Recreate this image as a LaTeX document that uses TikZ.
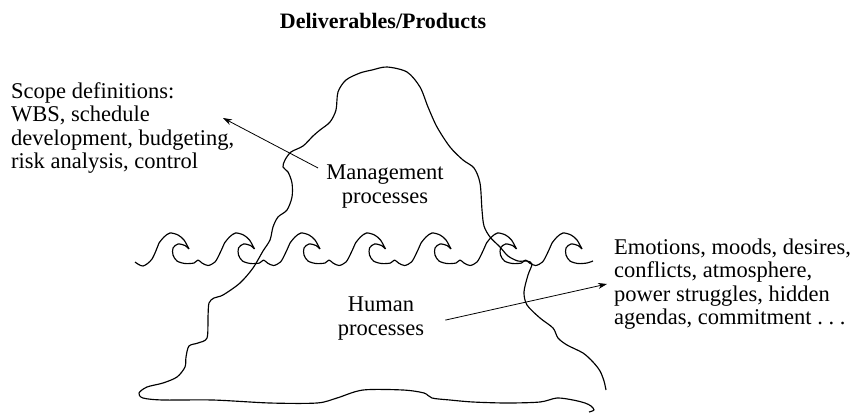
\documentclass[tikz,border=0pt]{standalone}
\usepackage{fontspec}
\setmainfont{Liberation Serif}
\usepackage{tikz}
\usetikzlibrary{arrows.meta}
\tikzset{
   outline/.style={draw=black, line width=1.15pt, line join=round},
   sea/.style={draw=black, line width=1.15pt, line join=round},
   pointer/.style={draw=black, line width=0.8pt,
      -{Stealth[length=9pt, width=6pt]}},
   txt/.style={inner sep=0pt, font=\fontsize{22.5}{23.3}\selectfont},
   }

\begin{document}
\begin{tikzpicture}[x=1pt, y=1pt]
            \useasboundingbox (0,0) rectangle (856,-413);

            % the iceberg
            \draw[outline] plot[smooth] coordinates {
              (589,-412) (594,-410) (591,-406) (585,-403) (573,-400) (557,-398)
              (540,-402) (507,-403) (473,-402) (450,-400) (432,-398) (424,-393)
              (403,-390) (363,-390) (337,-398) (317,-403) (270,-403) (213,-400)
              (163,-400) (143,-398) (139,-393) (147,-387) (163,-383) (177,-377)
              (185,-367) (186,-357) (189,-346) (198,-343) (207,-338) (208,-317)
              (209,-303) (214,-298) (223,-295) (240,-283) (253,-268) (263,-251)
              (270,-240) (273,-227) (278,-217) (287,-210) (292,-197) (292,-183)
              (288,-172) (283,-167) (285,-160) (291,-152) (303,-146) (313,-136)
              (320,-130) (330,-122) (336,-110) (338,-92) (346,-80) (360,-73)
              (372,-70) (387,-67) (407,-72) (420,-87) (428,-107) (437,-127)
              (450,-147) (463,-160) (474,-168) (480,-183) (482,-210) (484,-226)
              (490,-237) (500,-247) (508,-256) (518,-261) (527,-261) (532,-264)
              (528,-275) (524,-292) (527,-305) (540,-318) (553,-328) (558,-338)
              (567,-345) (583,-353) (593,-362) (600,-371) (604,-381) (606,-390)};

            % water line, one breaking wave per step
            \draw[sea, shift={(170,-233)}] plot[smooth] coordinates {
              (-35,-29) (-27,-33) (-18,-26) (-11,-10)};
            \foreach \k in {0,...,5}{
              \draw[sea, shift={(170+65.5*\k,-233)}]
                plot[smooth] coordinates {(-11,-10) (-6,-4) (0,0) (8,-2) (14,-7) (19,-16)}
                plot[smooth] coordinates {(19,-16) (15,-12.5) (8,-11) (3,-15) (3,-22)
                  (7,-28) (15,-30.5) (24,-30) (28,-27) (32,-30) (38,-32.5) (45,-29)
                  (50,-20) (54.5,-10)};
            }
            \draw[sea, shift={(563,-233)}]
                plot[smooth] coordinates {(-11,-10) (-6,-4) (0,0) (8,-2) (14,-7) (19,-16)}
                plot[smooth] coordinates {(19,-16) (15,-12.5) (8,-11) (3,-15) (3,-22)
                  (7,-28) (15,-30.5) (24,-30) (30,-28)};

            % labels
            \node[txt, anchor=base, font=\fontsize{22}{24}\selectfont\bfseries] (title) at (383,-28) {Deliverables/Products};
            \node[txt, anchor=north west, align=left] (scope) at (11,-82.6)
                 {Scope definitions:\\ WBS, schedule\\ development, budgeting,\\ risk analysis, control};
            \node[txt, anchor=north, align=center] (mgmt) at (385,-165) {Management\\ processes};
            \node[txt, anchor=north, align=center] (human) at (381,-297) {Human\\ processes};
            \node[txt, anchor=north west, align=left] (emotions) at (614,-238.6)
                 {Emotions, moods, desires,\\ conflicts, atmosphere,\\ power struggles, hidden\\ agendas, commitment .~.~.};

            \coordinate (scopetip) at (223,-118);
            \draw[pointer] ([shift={(-8,-3)}]mgmt.north west) -- (scopetip);
            \draw[pointer] ([shift={(21,-1.5)}]human.east) -- ([xshift=-7]emotions.west);

        \end{tikzpicture}
\end{document}
